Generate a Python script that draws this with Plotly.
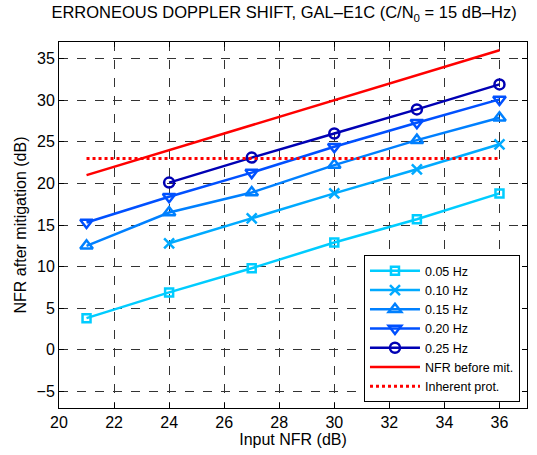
import plotly.graph_objects as go

x_full = [21, 24, 27, 30, 33, 36]
x_from24 = [24, 27, 30, 33, 36]

y_005 = [3.8, 6.9, 9.8, 12.9, 15.7, 18.8]
y_010 = [12.8, 15.8, 18.8, 21.7, 24.7]
y_015 = [12.5, 16.5, 18.9, 22.2, 25.2, 27.9]
y_020 = [15.3, 18.4, 21.3, 24.4, 27.3, 30.1]
y_025 = [20.1, 23.1, 26.0, 28.9, 31.9]
x_ref = [21, 36]
y_before = [21, 36]
y_inherent = [23, 23]

fig = go.Figure()

series = [
    ("0.05 Hz", x_full, y_005, "#00CCFF", "square-open", 8),
    ("0.10 Hz", x_from24, y_010, "#00AAFF", "x-thin-open", 10),
    ("0.15 Hz", x_full, y_015, "#0080FF", "triangle-up-open", 11),
    ("0.20 Hz", x_full, y_020, "#0050FF", "triangle-down-open", 11),
    ("0.25 Hz", x_from24, y_025, "#0000B4", "circle-open", 10),
]
for name, xs, ys, col, sym, sz in series:
    fig.add_trace(go.Scatter(
        x=xs, y=ys, name=name, mode="lines+markers",
        line=dict(color=col, width=2.5),
        marker=dict(symbol=sym, size=sz, color=col, line=dict(color=col, width=2.5)),
    ))

fig.add_trace(go.Scatter(x=x_ref, y=y_before, name="NFR before mit.", mode="lines",
                         line=dict(color="#FF0000", width=2.5)))
fig.add_trace(go.Scatter(x=x_ref, y=y_inherent, name="Inherent prot.", mode="lines",
                         line=dict(color="#FF0000", width=3, dash="dot")))

FONT = "Liberation Sans, Arial, sans-serif"
axis_common = dict(
    showline=True, linecolor="black", linewidth=1, mirror="ticks",
    ticks="inside", ticklen=5, tickcolor="black",
    showgrid=True, gridcolor="#333333", gridwidth=1, griddash="dash",
    zeroline=False,
    tickfont=dict(family=FONT, size=16, color="black"),
)

fig.update_layout(
    width=537, height=455,
    margin=dict(l=59, r=10, t=42, b=47),
    paper_bgcolor="white", plot_bgcolor="white",
    font=dict(family=FONT, color="black"),
    title=dict(text="ERRONEOUS DOPPLER SHIFT, GAL–E1C (C/N<sub>0</sub> = 15 dB–Hz)",
               x=0.529, xanchor="center", y=0.985, yanchor="top",
               font=dict(size=16.5, color="black")),
    xaxis=dict(range=[20, 37], tickvals=[20, 22, 24, 26, 28, 30, 32, 34, 36],
               title=dict(text="Input NFR (dB)", font=dict(size=16), standoff=3),
               **axis_common),
    yaxis=dict(range=[-7, 37], tickvals=[-5, 0, 5, 10, 15, 20, 25, 30, 35],
               ticktext=["−5", "0", "5", "10", "15", "20", "25", "30", "35"],
               title=dict(text="NFR after mitigation (dB)", font=dict(size=16), standoff=5),
               **axis_common),
    legend=dict(x=0.985, y=0.016, xanchor="right", yanchor="bottom",
                bgcolor="white", bordercolor="black", borderwidth=1,
                font=dict(size=12.5), tracegroupgap=0, itemwidth=50),
    showlegend=True,
)

fig.write_html("out.html")
